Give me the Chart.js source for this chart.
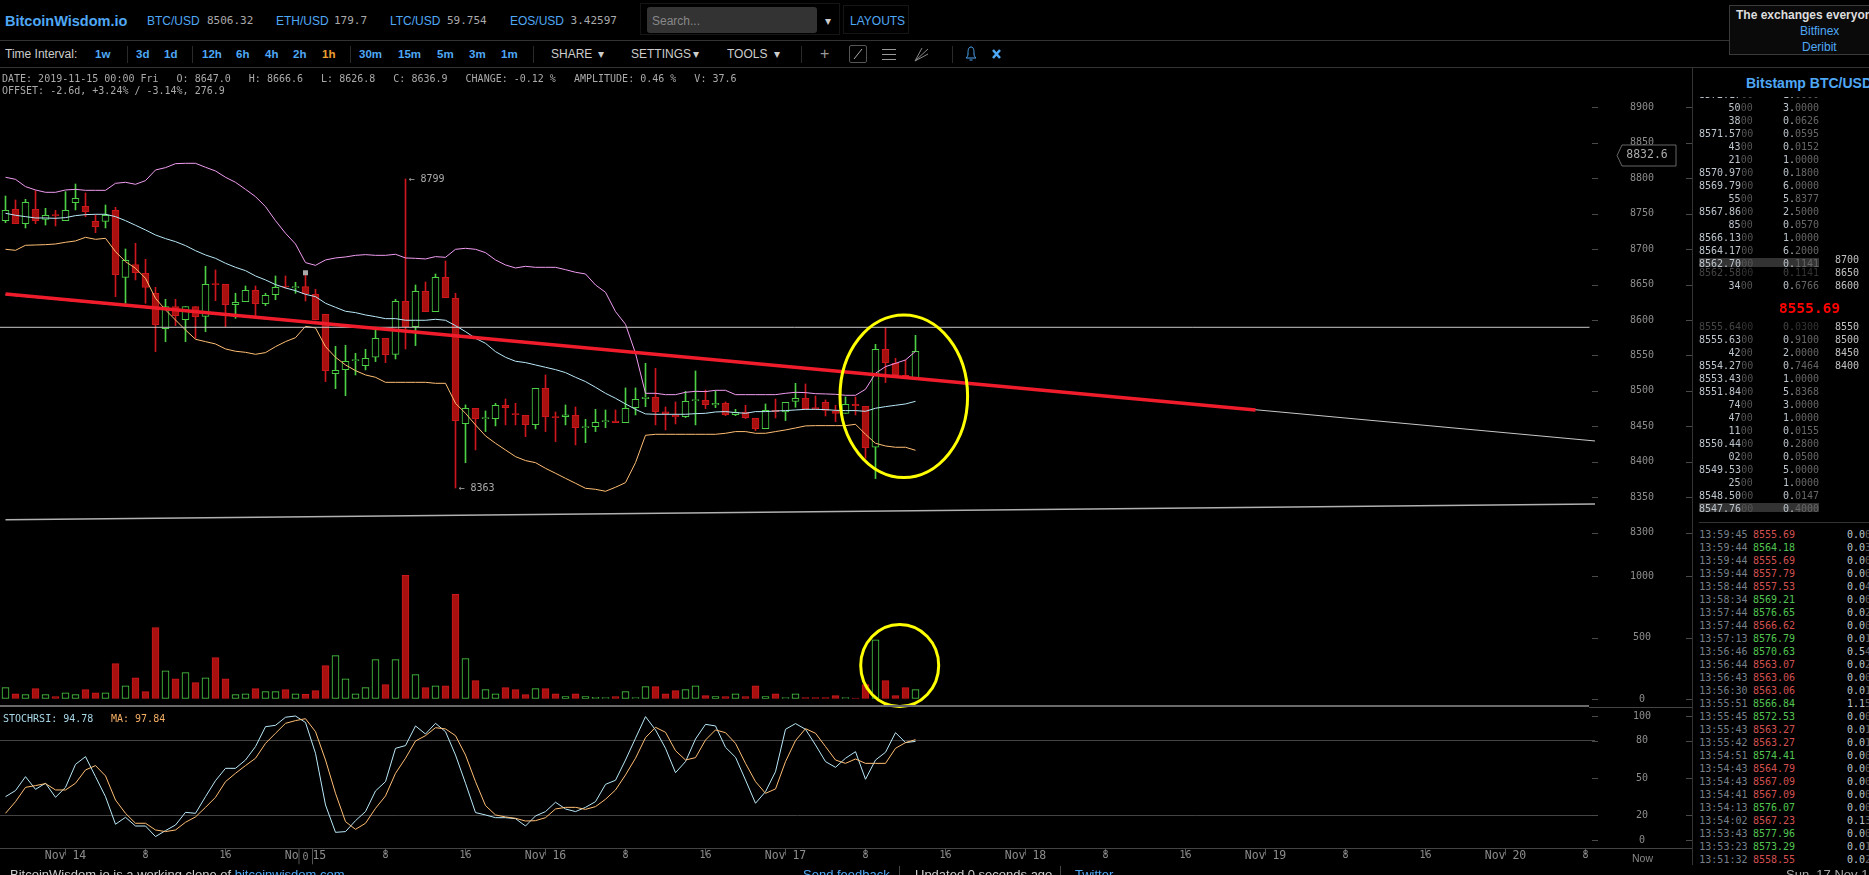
<!DOCTYPE html>
<html>
<head>
<meta charset="utf-8">
<title>BitcoinWisdom BTC/USD</title>
<script src="https://cdn.jsdelivr.net/npm/chart.js@4/dist/chart.umd.min.js"></script>
<style>
html, body { margin: 0; padding: 0; background: #000; width: 1869px; height: 875px; overflow: hidden; }
#page { position: relative; width: 1869px; height: 875px; overflow: hidden; font-family: "Liberation Sans", Arial, sans-serif; font-size: 12px; color: #ccc; }
#page canvas { position: absolute; left: 0; }
.t { position: absolute; white-space: pre; line-height: 14px; }
.mono { font-family: "DejaVu Sans Mono", monospace; font-size: 10px; }
.box { position: absolute; box-sizing: border-box; }
.clip { position: absolute; left: 0; width: 1869px; overflow: hidden; }
</style>
</head>
<body>
<div id="page">
    <canvas id="priceChart" width="1692" height="500" style="top:68px;width:1692px;height:500px"></canvas>
    <canvas id="volumeChart" width="1692" height="140" style="top:568px;width:1692px;height:140px"></canvas>
    <canvas id="stochChart" width="1692" height="167" style="top:708px;width:1692px;height:167px"></canvas>
</div>
<script>
// Candles, hourly, oldest first
var opens = [8740.1,8756.1,8735.9,8756.1,8742.0,8747.7,8740.1,8765.5,8760.4,8739.2,8739.2,8754.7,8660.2,8678.1,8665.9,8637.7,8587.8,8618.9,8600.5,8618.9,8605.2,8650.3,8650.3,8621.7,8625.9,8641.9,8623.1,8635.8,8647.0,8645.6,8647.0,8636.2,8608.0,8524.4,8530.0,8542.7,8535.6,8547.4,8574.2,8551.6,8626.4,8590.6,8640.5,8611.8,8660.2,8630.6,8453.8,8475.5,8461.0,8460.9,8479.7,8467.0,8465.6,8452.4,8503.7,8462.8,8463.7,8465.6,8448.2,8449.6,8456.7,8457.6,8455.3,8476.4,8489.1,8491.0,8470.3,8465.6,8463.7,8486.3,8486.7,8480.2,8482.5,8466.5,8469.8,8461.4,8446.8,8472.6,8470.3,8485.3,8489.6,8475.5,8483.9,8471.7,8468.4,8481.1,8478.3,8420.5,8558.7,8538.9,8522.0,8518.7];
var highs = [8774.9,8769.3,8770.2,8782.4,8757.5,8754.7,8781.0,8791.8,8779.2,8748.1,8762.2,8758.9,8700.2,8708.2,8685.6,8646.1,8629.2,8629.2,8618.9,8618.9,8675.7,8670.6,8650.3,8637.7,8648.0,8648.0,8637.7,8662.1,8662.1,8653.2,8666.6,8643.3,8608.0,8562.9,8564.3,8553.0,8558.7,8585.9,8574.2,8629.2,8799.0,8649.4,8653.6,8664.9,8683.3,8637.7,8480.2,8475.5,8471.7,8482.5,8488.6,8482.5,8465.6,8503.7,8522.5,8470.3,8480.2,8477.3,8459.9,8474.0,8473.1,8473.1,8504.2,8504.2,8538.9,8531.9,8477.3,8484.4,8499.4,8528.1,8501.3,8499.9,8484.4,8474.0,8479.7,8461.4,8481.6,8488.6,8483.9,8510.7,8509.8,8492.9,8487.2,8479.7,8491.5,8491.5,8478.3,8565.7,8589.2,8546.0,8543.6,8578.4];
var lows = [8737.3,8735.9,8729.8,8735.9,8734.0,8732.6,8740.1,8755.2,8745.8,8723.2,8729.8,8633.0,8623.6,8656.5,8623.6,8555.4,8569.5,8592.0,8569.5,8574.2,8583.6,8627.3,8590.6,8602.4,8625.9,8606.2,8620.3,8628.7,8644.7,8637.7,8626.8,8600.0,8513.1,8503.2,8493.3,8522.5,8529.6,8541.3,8539.9,8545.0,8559.1,8563.9,8611.8,8611.8,8631.5,8363.0,8398.8,8416.7,8442.6,8450.6,8452.0,8452.0,8435.5,8446.3,8442.6,8428.5,8452.0,8423.8,8427.0,8442.6,8448.2,8455.3,8455.3,8466.1,8477.8,8452.0,8444.9,8453.4,8462.3,8452.0,8475.0,8476.4,8465.1,8465.1,8460.9,8444.0,8446.8,8461.8,8458.1,8476.9,8474.0,8474.0,8464.6,8456.7,8468.4,8466.1,8405.0,8376.3,8511.7,8520.1,8519.2,8518.7];
var closes = [8754.7,8735.9,8766.0,8740.1,8747.7,8747.2,8754.7,8771.6,8752.8,8731.7,8747.7,8664.0,8684.2,8666.8,8646.1,8593.5,8618.9,8606.2,8618.9,8604.8,8650.3,8649.9,8621.7,8625.0,8641.9,8623.1,8634.8,8646.1,8646.6,8646.1,8636.9,8600.5,8528.6,8529.1,8541.8,8543.2,8546.0,8574.2,8551.2,8626.4,8590.6,8640.5,8611.8,8660.2,8631.5,8458.1,8475.5,8460.9,8461.4,8479.7,8476.4,8466.5,8452.4,8503.7,8463.7,8462.3,8466.1,8448.2,8448.7,8455.7,8457.1,8455.3,8475.5,8488.2,8491.0,8470.8,8467.5,8463.2,8485.3,8486.7,8480.6,8482.5,8466.5,8469.8,8462.3,8446.8,8472.6,8470.8,8483.9,8489.6,8475.0,8475.0,8472.6,8468.4,8481.1,8479.2,8420.0,8558.7,8539.9,8522.5,8519.2,8555.8];

// Bollinger bands
var bandUpper = [8801.3,8798.4,8788.1,8783.4,8780.1,8780.1,8783.4,8784.3,8782.9,8782.9,8782.9,8792.8,8794.2,8791.4,8796.6,8811.6,8814.9,8820.5,8821.0,8821.0,8815.4,8810.2,8801.3,8794.2,8784.3,8774.0,8759.9,8740.1,8722.3,8707.2,8680.9,8677.1,8684.7,8687.5,8688.9,8691.2,8692.2,8691.2,8691.2,8692.7,8687.5,8687.0,8686.1,8689.4,8688.4,8699.7,8701.1,8699.7,8695.0,8684.7,8677.6,8673.4,8675.7,8674.3,8674.3,8674.3,8671.0,8667.3,8664.9,8649.4,8639.1,8611.8,8593.9,8553.0,8496.6,8496.6,8494.7,8494.7,8498.0,8499.4,8499.0,8500.8,8500.8,8494.7,8494.7,8494.7,8494.7,8494.7,8496.6,8498.0,8497.6,8496.1,8495.7,8495.2,8493.8,8493.8,8502.3,8524.8,8534.2,8538.9,8543.6,8555.8];
var bandMiddle = [8750.5,8747.7,8745.8,8743.9,8743.9,8743.4,8744.4,8747.2,8748.6,8749.1,8749.1,8745.8,8740.1,8733.6,8727.0,8719.9,8714.8,8710.5,8704.9,8697.8,8691.7,8687.0,8680.0,8674.3,8669.6,8662.1,8656.5,8649.9,8645.2,8641.4,8636.2,8633.0,8623.6,8617.9,8612.3,8610.4,8607.1,8604.7,8601.9,8601.9,8599.6,8599.6,8599.6,8601.0,8599.6,8592.0,8583.6,8574.2,8567.1,8555.4,8547.4,8541.8,8539.9,8536.6,8533.3,8530.0,8525.8,8519.2,8513.1,8505.1,8496.6,8489.6,8481.6,8474.0,8467.5,8467.0,8467.0,8467.0,8467.0,8467.9,8468.4,8470.3,8470.8,8469.4,8468.4,8470.8,8470.8,8471.7,8472.2,8473.1,8474.0,8474.0,8473.6,8472.6,8472.2,8472.2,8471.2,8475.5,8477.8,8479.7,8481.6,8485.3];
var bandLower = [8699.7,8698.3,8705.4,8705.8,8706.3,8707.2,8709.6,8711.5,8716.6,8713.8,8715.2,8696.4,8682.3,8672.9,8658.8,8630.6,8614.2,8600.0,8585.9,8572.8,8569.5,8566.2,8559.2,8555.9,8554.4,8551.6,8554.0,8562.4,8569.5,8575.1,8591.1,8588.8,8562.4,8547.4,8536.6,8528.6,8522.5,8519.2,8512.1,8512.1,8512.1,8512.1,8512.1,8510.7,8510.7,8482.5,8468.4,8452.0,8436.5,8426.1,8416.7,8407.3,8401.7,8398.8,8390.8,8383.8,8376.7,8369.7,8362.6,8361.2,8358.4,8364.1,8370.6,8398.8,8437.4,8438.8,8438.8,8438.8,8438.8,8438.8,8438.8,8438.8,8440.2,8442.6,8442.6,8440.2,8440.2,8442.6,8444.9,8447.7,8450.6,8451.0,8451.0,8451.0,8451.0,8452.9,8438.8,8426.1,8422.3,8420.5,8420.5,8416.2];

// Volume
var volumes = [92,43,35,84,35,19,51,35,76,51,51,287,108,173,60,580,230,165,214,133,173,336,165,35,43,84,60,60,76,43,37.6,68,271,352,165,43,92,320,117,320,1005,198,92,108,108,851,328,149,76,43,92,76,35,84,84,43,19,43,19,14,11,19,60,11,100,100,43,68,76,108,27,19,19,43,19,108,19,43,11,43,11,11,11,27,11,3,117,482,149,27,92,76];

// Stochastic RSI and its moving average
var stochRsi = [35.1,40.0,51.2,41.0,45.9,34.6,42.6,61.1,67.3,51.2,35.1,12.9,18.5,11.5,11.5,3.0,7.8,12.3,22.5,21.7,35.1,48.0,57.9,57.9,64.6,75.4,91.4,92.5,99.0,100.0,94.78,70.0,28.4,6.4,7.0,15.8,23.1,39.7,47.2,74.0,76.2,92.0,85.5,94.1,87.4,68.6,45.9,22.3,20.4,18.2,18.2,17.4,11.5,19.6,23.1,30.6,25.2,23.1,26.5,31.1,45.0,48.3,64.6,82.1,99.5,88.8,74.0,54.4,63.3,81.5,93.3,92.0,74.8,66.8,48.5,29.8,39.1,55.2,89.3,93.9,89.3,76.7,63.3,58.7,66.0,71.3,49.1,64.6,70.8,86.6,78.6,79.6];
var stochMa = [21.7,31.1,42.6,44.0,45.6,40.5,40.5,45.9,56.6,60.1,51.8,32.4,21.7,13.7,13.7,8.3,7.0,8.3,14.5,18.8,26.5,34.6,47.2,53.9,60.1,66.0,78.0,86.1,94.1,96.3,97.84,87.4,64.6,37.8,15.0,8.8,13.7,25.7,35.7,53.9,66.0,79.9,84.2,90.6,89.6,84.2,68.6,47.2,27.9,20.4,18.8,17.7,15.5,15.8,18.2,25.2,26.5,26.5,24.9,27.1,33.0,40.5,52.6,66.0,82.6,90.9,86.9,72.1,64.6,66.5,80.7,88.8,86.6,78.0,61.9,47.2,37.8,41.3,63.3,80.2,89.8,86.1,75.4,64.6,61.9,65.4,61.9,61.9,61.9,74.0,78.6,81.0];

// Hand drawn trend lines, index on x and price on y
var redTrendX = [0, 125];
var redTrendY = [8636.7, 8473.0];
var fallingLineX = [0, 159];
var fallingLineY = [8635.6, 8429.3];
var risingLineX = [0, 159];
var risingLineY = [8318.3, 8340.5];
var levelLineX = [-0.55, 158.4];
var levelLineY = [8589.7, 8589.7];

// Tick labels
var priceTicks = [8900,8850,8800,8750,8700,8650,8600,8550,8500,8450,8400,8350,8300];
var volumeTicks = [1000,500,0];
var stochTicks = [100,80,50,20,0];
var timeTickIndex = [6,14,22,30,38,46,54,62,70,78,86,94,102,110,118,126,134,142,150,158];
var timeTickLabels = ['Nov 14','8','16','Nov 15','8','16','Nov 16','8','16','Nov 17','8','16','Nov 18','8','16','Nov 19','8','16','Nov 20','8'];

// Order book, trades
var askPrices = ['8572.1700','5000','3800','8571.5700','4300','2100','8570.9700','8569.7900','5500','8567.8600','8500','8566.1300','8564.1700','8562.7000'];
var askSizes = ['1.0000','3.0000','0.0626','0.0595','0.0152','1.0000','0.1800','6.0000','5.8377','2.5000','0.0570','1.0000','6.2000','0.1141'];
var bidPrices = ['8555.6300','4200','8554.2700','8553.4300','8551.8400','7400','4700','1100','8550.4400','0200','8549.5300','2500','8548.5000','8547.7600'];
var bidSizes = ['0.9100','2.0000','0.7464','1.0000','5.8368','3.0000','1.0000','0.0155','0.2800','0.0500','5.0000','1.0000','0.0147','0.4000'];
var depthLabels = ['8700','8650','8600','','','8550','8500','8450','8400'];
var tradeTimes = ['13:59:45','13:59:44','13:59:44','13:59:44','13:58:44','13:58:34','13:57:44','13:57:44','13:57:13','13:56:46','13:56:44','13:56:43','13:56:30','13:55:51','13:55:45','13:55:43','13:55:42','13:54:51','13:54:43','13:54:43','13:54:41','13:54:13','13:54:02','13:53:43','13:53:23','13:51:32'];
var tradePrices = ['8555.69','8564.18','8555.69','8557.79','8557.53','8569.21','8576.65','8566.62','8576.79','8570.63','8563.07','8563.06','8563.06','8566.84','8572.53','8563.27','8563.27','8574.41','8564.79','8567.09','8567.09','8576.07','8567.23','8577.96','8573.29','8558.55'];
var tradeBuy = [0,1,0,0,0,1,1,0,1,1,0,0,0,1,1,0,0,1,0,0,0,1,0,1,1,0];
var tradeSizes = ['0.00','0.03','0.00','0.00','0.04','0.00','0.02','0.00','0.01','0.54','0.02','0.00','0.01','1.15','0.00','0.01','0.01','0.00','0.00','0.00','0.00','0.00','0.13','0.00','0.01','0.02'];

// Readout under the cursor
var cursorIndex = 30;
var cursorPrice = 8832.6;

var UP = '#4ccf45', DOWN = '#a81010', DOWN_EDGE = '#cc181c';
var PINK = '#f09cf0', SKY = '#b8e8f8', AMBER = '#ffbe74';
var MONO = '"DejaVu Sans Mono", monospace';
var indexes = opens.map(function(v, i) { return i; });
function isUp(i) { return closes[i] >= opens[i]; }
function series(values) {
    return values.map(function(v, i) { return {x: i, y: v}; });
}
function pairs(xs, ys) {
    return xs.map(function(x, i) { return {x: x, y: ys[i]}; });
}
function lineSet(data, color, width, order) {
    return {type: 'line', data: data, borderColor: color, borderWidth: width, pointRadius: 0, tension: 0, order: order, parsing: {xAxisKey: 'x', yAxisKey: 'y'}};
}
function noPadding(scale) {
    scale.paddingTop = scale.paddingBottom = scale.paddingLeft = scale.paddingRight = 0;
}

function xScale(show) {
    return {
        type: 'linear', min: -0.55, max: 158.95, display: show, offset: false,
        border: {display: false},
        grid: {drawOnChartArea: false, drawTicks: true, tickLength: 7, color: '#555'},
        afterBuildTicks: function(scale) {
            scale.ticks = timeTickIndex.map(function(v) { return {value: v}; });
        },
        afterFit: function(scale) {
            if (show) scale.height = 26.7;
            noPadding(scale);
        },
        ticks: {
            autoSkip: false, maxRotation: 0, padding: -6, color: '#8c8c8c',
            font: function(ctx) {
                var big = ctx.tick && timeTickIndex.indexOf(ctx.tick.value) % 3 === 0;
                return {family: MONO, size: big ? 11.5 : 10};
            },
            callback: function(value) { return timeTickLabels[timeTickIndex.indexOf(value)]; }
        }
    };
}
function yScale(min, max, tickValues, labelGap, gridColor) {
    return {
        type: 'linear', position: 'right', min: min, max: max,
        border: {display: false},
        // tickLength only pushes the labels out, the dashes come from axisDashes
        grid: {drawTicks: true, tickLength: labelGap, tickColor: 'transparent', color: gridColor || 'transparent', lineWidth: 1},
        afterBuildTicks: function(scale) {
            scale.ticks = tickValues.map(function(v) { return {value: v}; });
        },
        afterFit: function(scale) {
            scale.width = 97;
            noPadding(scale);
        },
        ticks: {
            autoSkip: false, padding: 0, crossAlign: 'center', color: '#8c8c8c',
            font: {family: MONO, size: 10},
            callback: function(value) { return String(value); }
        }
    };
}
// small dashes either side of the y labels
var axisDashes = {
    id: 'axisDashes',
    afterDraw: function(chart) {
        var ctx = chart.ctx, s = chart.scales.y;
        ctx.save();
        ctx.strokeStyle = '#4a4a4a';
        ctx.beginPath();
        s.ticks.forEach(function(t) {
            var y = Math.round(s.getPixelForValue(t.value)) + 0.5;
            ctx.moveTo(s.left - 3, y); ctx.lineTo(s.left + 3, y);
            ctx.moveTo(s.right - 6, y); ctx.lineTo(s.right, y);
        });
        ctx.stroke();
        ctx.restore();
    }
};
function ring(chart, cx, cy, rx, ry) {
    var ctx = chart.ctx, X = chart.scales.x, Y = chart.scales.y;
    var px = X.getPixelForValue(cx), py = Y.getPixelForValue(cy);
    ctx.save();
    ctx.strokeStyle = '#ffff00';
    ctx.lineWidth = 3;
    ctx.beginPath();
    ctx.ellipse(px, py, X.getPixelForValue(cx + rx) - px, py - Y.getPixelForValue(cy + ry), 0, 0, Math.PI * 2);
    ctx.stroke();
    ctx.restore();
}
var priceNotes = {
    id: 'priceNotes',
    afterDraw: function(chart) {
        var ctx = chart.ctx, X = chart.scales.x, Y = chart.scales.y;
        ctx.save();
        ctx.font = '10px ' + MONO;
        ctx.fillStyle = '#aaa';
        ctx.textBaseline = 'middle';
        // highest and lowest price
        var hi = highs.indexOf(Math.max.apply(null, highs)), lo = lows.indexOf(Math.min.apply(null, lows));
        ctx.fillText('\u2190 ' + Math.round(highs[hi]), X.getPixelForValue(hi) + 3, Y.getPixelForValue(highs[hi]));
        ctx.fillText('\u2190 ' + Math.round(lows[lo]), X.getPixelForValue(lo) + 3, Y.getPixelForValue(lows[lo]));
        // cursor marker on the hovered candle
        ctx.fillStyle = '#aaa';
        ctx.fillRect(X.getPixelForValue(cursorIndex) - 2.5, Y.getPixelForValue(highs[cursorIndex]) - 2.5, 5, 5);
        // price flag on the axis
        var fy = Math.round(Y.getPixelForValue(cursorPrice)) + 0.5, l = Y.left + 22;
        ctx.fillStyle = '#000';
        ctx.strokeStyle = '#666';
        ctx.beginPath();
        ctx.moveTo(l, fy);
        ctx.lineTo(l + 5, fy - 10.5);
        ctx.lineTo(l + 59, fy - 10.5);
        ctx.lineTo(l + 59, fy + 10.5);
        ctx.lineTo(l + 5, fy + 10.5);
        ctx.closePath();
        ctx.fill();
        ctx.stroke();
        ctx.fillStyle = '#aaa';
        ctx.font = '11.5px ' + MONO;
        ctx.textAlign = 'center';
        ctx.fillText(cursorPrice.toFixed(1), l + 30, fy);
        ctx.restore();
        ring(chart, 89.83, 8492.4, 6.38, 114.7);
    }
};
var volumeNotes = {
    id: 'volumeNotes',
    afterDraw: function(chart) { ring(chart, 89.42, 272, 3.9, 333); }
};
// cursor tag on the time axis
var stochNotes = {
    id: 'stochNotes',
    afterDraw: function(chart) {
        var ctx = chart.ctx, px = chart.scales.x.getPixelForValue(cursorIndex), b = chart.chartArea.bottom;
        ctx.save();
        ctx.fillStyle = '#000';
        ctx.fillRect(px - 7, b + 1, 14, 15);
        ctx.strokeStyle = '#555';
        ctx.beginPath();
        ctx.moveTo(px - 6.5, b); ctx.lineTo(px - 6.5, b + 16);
        ctx.moveTo(px + 7, b); ctx.lineTo(px + 7, b + 16);
        ctx.stroke();
        ctx.fillStyle = '#8c8c8c';
        ctx.font = '10px ' + MONO;
        ctx.textAlign = 'center';
        ctx.textBaseline = 'middle';
        ctx.fillText('0', px, b + 9);
        ctx.restore();
    }
};
function baseOptions(scales) {
    return {
        responsive: false, animation: false, devicePixelRatio: 1,
        layout: {padding: 0},
        plugins: {legend: {display: false}, tooltip: {enabled: false}},
        events: [],
        scales: scales
    };
}

// Price pane
new Chart(document.getElementById('priceChart'), {
    type: 'bar',
    data: {
        datasets: [
            lineSet(pairs(levelLineX, levelLineY), '#c8c8c8', 1, 1),
            lineSet(pairs(redTrendX, redTrendY), '#f01c2c', 3.5, 0),
            lineSet(pairs(fallingLineX, fallingLineY), '#c8c8c8', 1, 2),
            lineSet(pairs(risingLineX, risingLineY), '#b0b0b0', 1.5, 2),
            lineSet(series(bandUpper), PINK, 1, 3),
            lineSet(series(bandMiddle), SKY, 1, 3),
            lineSet(series(bandLower), AMBER, 1, 3),
            {
                data: indexes.map(function(i) { return {x: i, y: [opens[i], closes[i]]}; }),
                backgroundColor: indexes.map(function(i) { return isUp(i) ? '#000' : DOWN; }),
                borderColor: indexes.map(function(i) { return isUp(i) ? UP : DOWN_EDGE; }),
                borderWidth: 1, borderSkipped: false, barThickness: 7, minBarLength: 1, grouped: false, order: 4
            },
            {
                data: indexes.map(function(i) { return {x: i, y: [lows[i], highs[i]]}; }),
                backgroundColor: indexes.map(function(i) { return isUp(i) ? UP : DOWN_EDGE; }),
                borderWidth: 0, barThickness: 1, grouped: false, order: 5
            }
        ]
    },
    options: baseOptions({x: xScale(false), y: yScale(8250.2, 8955.43, priceTicks, 35)}),
    plugins: [axisDashes, priceNotes]
});

// Volume pane
new Chart(document.getElementById('volumeChart'), {
    type: 'bar',
    data: {
        datasets: [{
            data: series(volumes),
            backgroundColor: indexes.map(function(i) { return isUp(i) ? '#000' : DOWN; }),
            borderColor: indexes.map(function(i) { return isUp(i) ? UP : DOWN_EDGE; }),
            borderWidth: 1, borderSkipped: false, barThickness: 7, minBarLength: 1
        }]
    },
    options: baseOptions({x: xScale(false), y: yScale(-73.17, 1065.04, volumeTicks, 35)}),
    plugins: [axisDashes, volumeNotes]
});

// Stochastic RSI pane
new Chart(document.getElementById('stochChart'), {
    type: 'line',
    data: {
        datasets: [
            lineSet(series(stochMa), AMBER, 1, 0),
            lineSet(series(stochRsi), SKY, 1, 1)
        ]
    },
    options: baseOptions({
        x: xScale(true),
        y: yScale(-6.44, 106.44, stochTicks, 38, function(ctx) {
            return ctx.tick && (ctx.tick.value === 80 || ctx.tick.value === 20) ? '#444' : 'transparent';
        })
    }),
    plugins: [axisDashes, stochNotes]
});

// Page furniture around the chart
var page = document.getElementById('page');
function text(parent, x, y, str, color, extra) {
    var el = document.createElement('div');
    el.className = 't';
    el.textContent = str;
    el.style.left = x + 'px';
    el.style.top = (y - 7) + 'px';
    if (color) el.style.color = color;
    if (extra) el.style.cssText += ';' + extra;
    parent.appendChild(el);
    return el;
}
function mono(parent, x, y, str, color, extra) {
    var el = text(parent, x, y, str, color, extra);
    el.className = 't mono';
    return el;
}
function box(x, y, w, h, css) {
    var el = document.createElement('div');
    el.className = 'box';
    el.style.cssText = 'left:' + x + 'px;top:' + y + 'px;width:' + w + 'px;height:' + h + 'px;' + css;
    page.appendChild(el);
    return el;
}
function svg(x, y, w, h, inner) {
    var el = box(x, y, w, h, '');
    el.innerHTML = '<svg width="' + w + '" height="' + h + '" fill="none" stroke="#4fa8f5">' + inner + '</svg>';
    return el;
}
var BLUE = '#4fa8f5';

// rules
box(0, 40, 1729, 1, 'background:#333');
box(0, 67, 1869, 1, 'background:#333');
box(1692, 67, 1, 798, 'background:#333');
box(0, 705, 1589, 2, 'background:#6a6a6a');
box(1589, 707, 103, 1, 'background:#444');
box(0, 848, 1692, 1, 'background:#444');

// header
text(page, 5, 20.5, 'BitcoinWisdom.io', BLUE, 'font-weight:bold;font-size:14.5px');
[['BTC/USD', 147, '8506.32', 207], ['ETH/USD', 276, '179.7', 334], ['LTC/USD', 390, '59.754', 447], ['EOS/USD', 510, '3.42597', 570.6]].forEach(function(m) {
    text(page, m[1], 20.5, m[0], BLUE);
    mono(page, m[3], 20.5, m[2], '#aaa', 'font-size:11px');
});
box(640, 3, 200, 32, 'border:1px solid #151515');
box(647, 7, 170, 26, 'background:#333;border-radius:3px');
text(page, 652, 20.5, 'Search...', '#888');
text(page, 825, 20.5, '\u25BE', '#ccc');
box(843, 5, 66, 29, 'border:1px solid #151515');
text(page, 850, 20.5, 'LAYOUTS', BLUE);

// toolbar
text(page, 5, 54, 'Time Interval:', '#ccc');
[['1w', 95], ['3d', 136], ['1d', 164], ['12h', 202], ['6h', 236], ['4h', 265], ['2h', 293], ['1h', 322, '#f0a030'], ['30m', 359], ['15m', 398], ['5m', 437], ['3m', 469], ['1m', 501]].forEach(function(b) {
    text(page, b[1], 54, b[0], b[2] || BLUE, 'font-weight:bold;font-size:11.5px');
});
[127, 192, 350, 533, 801, 952].forEach(function(x) {
    box(x, 46, 1, 17, 'background:#2a2a2a');
});
[['SHARE', 551, 598], ['SETTINGS', 631, 693], ['TOOLS', 727, 774]].forEach(function(m) {
    text(page, m[1], 54, m[0], '#ccc');
    text(page, m[2], 54, '\u25BE', '#ccc');
});
text(page, 820, 54, '+', '#999', 'font-size:16px');
box(849, 45, 18, 18, 'border:1px solid #555;border-radius:2px');
svg(849, 45, 18, 18, '<path d="M5 14L13 4" stroke="#aaa"/>');
svg(881, 46, 16, 16, '<path d="M1 3.5H15M1 8.5H15M1 13.5H15" stroke="#999"/>');
svg(914, 46, 16, 16, '<path d="M1 15L14 3M1 15L14 8M1 15L8 2" stroke="#888"/>');
svg(964, 46, 14, 16, '<path d="M7 1C4 1 4 5 4 8C4 10 3 11 2 12H12C11 11 10 10 10 8C10 5 10 1 7 1ZM5.5 14H8.5"/>');
svg(991, 48, 11, 12, '<path d="M2 2L9 10M9 2L2 10" stroke-width="2.5"/>');

// sponsor box
box(1729, 5, 150, 50, 'background:#0a0a0a;border:1px solid #3a3a3a');
text(page, 1736, 15, 'The exchanges everyone', '#ddd', 'font-weight:bold');
text(page, 1800, 31, 'Bitfinex', BLUE);
text(page, 1802, 47, 'Deribit', BLUE);

// readout
mono(page, 2, 79, 'DATE: 2019-11-15 00:00 Fri   O: 8647.0   H: 8666.6   L: 8626.8   C: 8636.9   CHANGE: -0.12 %   AMPLITUDE: 0.46 %   V: 37.6', '#aaa');
mono(page, 2, 91, 'OFFSET: -2.6d, +3.24% / -3.14%, 276.9', '#aaa');
mono(page, 3, 719, 'STOCHRSI: 94.78', '#a8d8e8');
mono(page, 111, 719, 'MA: 97.84', '#f5b066');
text(page, 1632, 858, 'Now', '#888', 'font-size:10.5px');

// order book
text(page, 1746, 83, 'Bitstamp BTC/USD', BLUE, 'font-weight:bold;font-size:14px');
function bookRow(parent, y, price, size, faded) {
    var cut = price.length - 2;
    var bright = faded ? '#444' : '#bcc4cc', dim = faded ? '#333' : '#555';
    var p = mono(parent, 1699, y, '', bright);
    p.style.width = '53.7px';
    p.style.textAlign = 'right';
    p.innerHTML = price.slice(0, cut) + '<span style="color:' + dim + '">' + price.slice(cut) + '</span>';
    var s = mono(parent, 1783, y, '', bright);
    s.innerHTML = size.slice(0, 2) + '<span style="color:' + (faded ? '#333' : '#666') + '">' + size.slice(2) + '</span>';
}
box(1699, 258, 120, 9, 'background:#333');
box(1699, 503, 120, 9, 'background:#333');
var asksClip = document.createElement('div');
asksClip.className = 'clip';
asksClip.style.cssText = 'top:97px;height:170px';
page.appendChild(asksClip);
askPrices.forEach(function(p, i) { bookRow(asksClip, -1.7 + i * 13, p, askSizes[i]); });
bookRow(page, 273.3, '8562.5800', '0.1141', true);
bookRow(page, 286.3, '3400', '0.6766');
mono(page, 1779, 308, '8555.69', '#ff0000', 'font-size:14.5px;font-weight:bold');
bookRow(page, 327.3, '8555.6400', '0.0300', true);
var bidsClip = document.createElement('div');
bidsClip.className = 'clip';
bidsClip.style.cssText = 'top:330px;height:182px';
page.appendChild(bidsClip);
bidPrices.forEach(function(p, i) { bookRow(bidsClip, 10.3 + i * 13, p, bidSizes[i]); });
depthLabels.forEach(function(d, i) {
    if (d) mono(page, 1835, (i < 3 ? 260.3 + i * 13 : 327.3 + (i - 5) * 13), d, '#c0c0c0');
});
box(1699, 522, 170, 1, 'background:#333');

// recent trades
tradeTimes.forEach(function(t, i) {
    var y = 535.3 + i * 13;
    mono(page, 1699.3, y, t, '#77808c');
    mono(page, 1753, y, tradePrices[i], tradeBuy[i] ? '#52c452' : '#d25050');
    var s = tradeSizes[i];
    mono(page, 1847, y, '', '#bcc4cc').innerHTML = s.slice(0, 3) + '<span style="color:#666">' + s.slice(3) + '</span>';
});

// footer
var foot = text(page, 10, 875, '', '#ccc', 'font-size:13px');
foot.innerHTML = 'BitcoinWisdom.io is a working clone of <span style="color:#4fa8f5">bitcoinwisdom.com</span>';
text(page, 803, 875, 'Send feedback', BLUE, 'font-size:13px');
box(899, 866, 1, 9, 'background:#444');
text(page, 915, 875, 'Updated 0 seconds ago', '#ccc', 'font-size:13px');
box(1060, 866, 1, 9, 'background:#444');
text(page, 1075, 875, 'Twitter', BLUE, 'font-size:13px');
text(page, 1786, 875, 'Sun, 17 Nov 13:59:45', '#aaa', 'font-size:13px');
</script>
</body>
</html>
